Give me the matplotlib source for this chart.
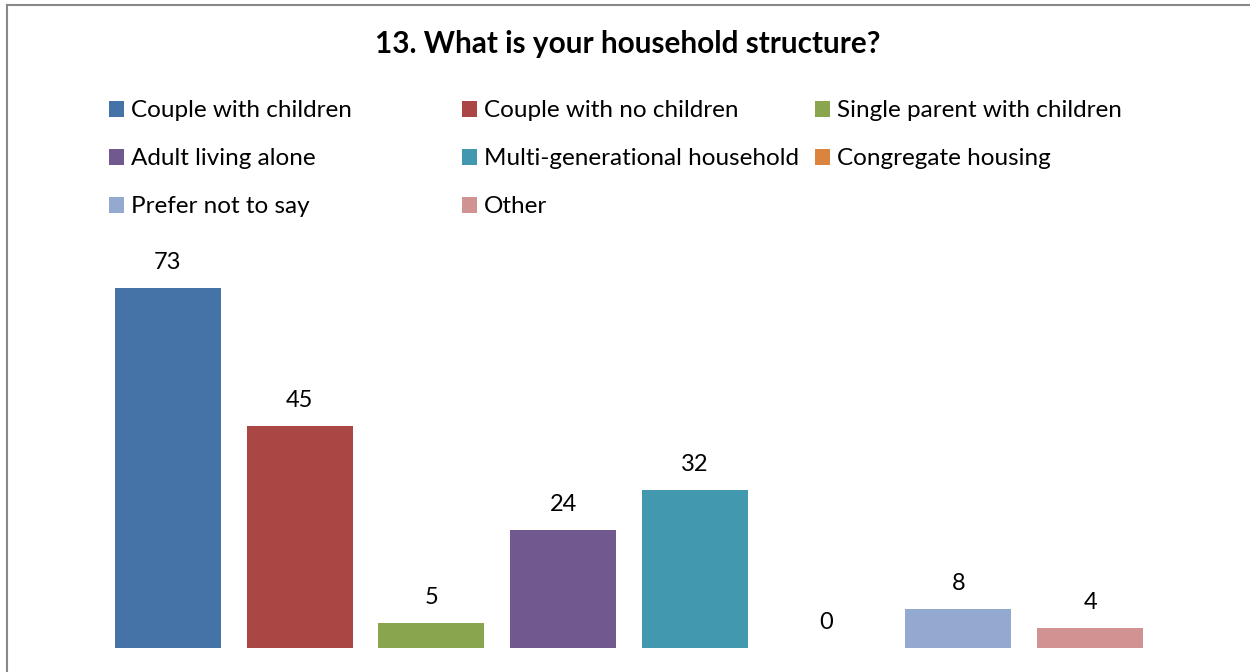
import matplotlib
matplotlib.use('Agg')
import matplotlib.pyplot as plt
from matplotlib.lines import Line2D
from matplotlib.patches import Rectangle

categories = ['Couple with children', 'Couple with no children', 'Single parent with children',
              'Adult living alone', 'Multi-generational household', 'Congregate housing',
              'Prefer not to say', 'Other']
counts = [73, 45, 5, 24, 32, 0, 8, 4]
colours = ['#4572A7', '#AA4643', '#89A54E', '#71588F', '#4198AF', '#DB843D', '#93A9CF', '#D19392']

plt.rcParams['font.family'] = ['Lato', 'DejaVu Sans']

W, H = 1250, 672
fig = plt.figure(figsize=(W / 100, H / 100), dpi=100)

# axes placed in pixel terms
left, right, bottom, ymax = 102, 1156, 648, 80
ppu = 4.93
ax = fig.add_axes([left / W, (H - bottom) / H, (right - left) / W, ymax * ppu / H])

x = list(range(len(categories)))
bars = ax.bar(x, counts, width=0.805, color=colours)
ax.set_xlim(-0.5, len(categories) - 0.5)
ax.set_ylim(0, ymax)
ax.axis('off')

for b, v in zip(bars, counts):
    ax.annotate(str(v), (b.get_x() + b.get_width() / 2, v), xytext=(0, 19),
                textcoords='offset pixels', ha='center', va='baseline', fontsize=17, color='#000000')

# legend: three equal-width columns, filled row by row
sq = 15
for i, (name, c) in enumerate(zip(categories, colours)):
    col, row = i % 3, i // 3
    x0 = 109 + 353 * col
    yc = 109 + 48 * row
    fig.add_artist(Rectangle((x0 / W, 1 - (yc + sq / 2) / H), sq / W, sq / H,
                             facecolor=c, edgecolor='none', transform=fig.transFigure))
    fig.text((x0 + 22) / W, 1 - (yc + 7.7) / H, name, ha='left', va='baseline', fontsize=17.5)

fig.text(628 / W, 1 - 53.3 / H, '13. What is your household structure?', ha='center', va='baseline',
         fontsize=21.4, fontweight='bold')

# chart border (left and top edges visible)
fig.add_artist(Line2D([7 / W, 7 / W], [0, 1 - 5 / H], color='#888888', lw=1.5, transform=fig.transFigure))
fig.add_artist(Line2D([7 / W, 1], [1 - 5 / H, 1 - 5 / H], color='#888888', lw=1.5, transform=fig.transFigure))

fig.savefig('out.png', dpi=100)
